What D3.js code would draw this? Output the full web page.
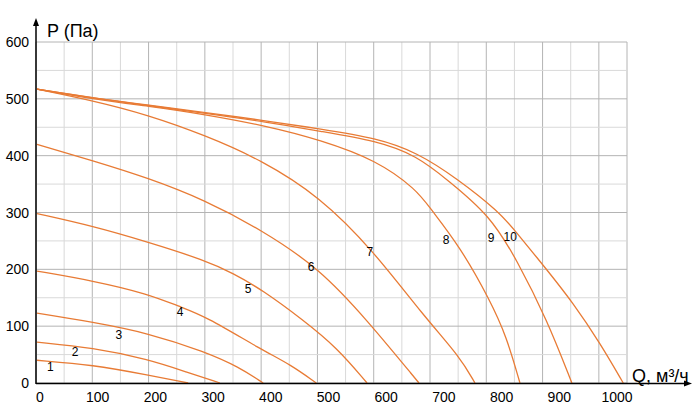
<!DOCTYPE html>
<html><head><meta charset="utf-8">
<script src="https://cdn.jsdelivr.net/npm/d3@7"></script>
<style>body{margin:0;background:#fff}svg{display:block}text{font-family:"Liberation Sans",Arial,sans-serif}</style>
</head><body><svg id="c" width="700" height="420"></svg>
<script>
const xTicks=[0,100,200,300,400,500,600,700,800,900,1000];
const yTicks=[0,100,200,300,400,500,600];
const curve1=[[0,40],[97,32],[192,14],[262,0]];
const curve2=[[0,72],[97,62],[192,42],[260,19],[317,0]];
const curve3=[[0,123],[97,107],[192,88],[291,55],[350,28],[392,0]];
const curve4=[[0,197],[97,180],[192,157],[248,134],[291,118],[390,58],[440,32],[484,0]];
const curve5=[[0,298],[97,276],[192,248],[291,216],[340,193],[390,164],[461,111],[520,62],[572,0]];
const curve6=[[0,420],[97,391],[192,361],[291,322],[390,269],[489,202],[572,111],[662,0]];
const curve7=[[0,517],[100,496],[191,472],[291,436],[390,392],[490,328],[582,234],[670,118],[733,46],[759,0]];
const curve8=[[0,517],[100,499],[200,486],[283,474],[400,452],[490,428],[589,392],[658,340],[681,308],[733,240],[785,146],[814,81],[837,0]];
const curve9=[[0,517],[100,501],[200,487],[283,476],[400,459],[490,443],[589,426],[658,400],[712,357],[785,295],[832,216],[884,111],[927,0]];
const curve10=[[0,517],[100,501],[200,488],[283,477],[400,461],[490,447],[589,431],[658,406],[728,360],[802,300],[825,272],[884,199],[929,141],[976,70],[1016,0]];
const curves=[curve1,curve2,curve3,curve4,curve5,curve6,curve7,curve8,curve9,curve10];
const labelNames=["1","2","3","4","5","6","7","8","9","10"];
const labelPos=[[23,26],[66,53],[142,83],[248,123],[366,164],[475,202],[577,229],[709,250],[787,253],[820,255]];

const svg=d3.select("#c");
const x=d3.scaleLinear().domain([0,1000]).range([37,614]);
const y=d3.scaleLinear().domain([0,600]).range([383,42]);
const gx=d3.scaleLinear().domain([0,21]).range([36,627]);
const g=svg.append("g");
d3.range(0,22).forEach(k=>{
  g.append("line").attr("x1",gx(k)).attr("x2",gx(k)).attr("y1",y(600)).attr("y2",y(0))
   .attr("stroke",k%2===0||k===21?"#b4b4b4":"#d9d9d9").attr("stroke-width",1);
});
d3.range(0,601,50).forEach(v=>{
  g.append("line").attr("x1",36).attr("x2",627).attr("y1",y(v)).attr("y2",y(v))
   .attr("stroke",v%100===0?"#b4b4b4":"#d9d9d9").attr("stroke-width",1);
});
const line=d3.line().x(d=>x(d[0])).y(d=>y(d[1])).curve(d3.curveBasis);
curves.forEach(c=>svg.append("path").attr("d",line(c)).attr("fill","none").attr("stroke","#e87b35").attr("stroke-width",1.3));
labelNames.forEach((n,i)=>svg.append("text").attr("x",x(labelPos[i][0])).attr("y",y(labelPos[i][1])).attr("text-anchor","middle").attr("dominant-baseline","middle").attr("font-size",12).text(n));
svg.append("line").attr("x1",36).attr("x2",36).attr("y1",384).attr("y2",22).attr("stroke","#000").attr("stroke-width",1.5);
svg.append("path").attr("d","M36,18 L33,26 L39,26 Z").attr("fill","#000");
svg.append("line").attr("x1",36).attr("x2",688).attr("y1",383.5).attr("y2",383.5).attr("stroke","#000").attr("stroke-width",1.5);
svg.append("path").attr("d","M692,383.5 L684,380.5 L684,386.5 Z").attr("fill","#000");
xTicks.forEach(t=>svg.append("text").attr("x",x(t)+3).attr("y",402).attr("text-anchor","middle").attr("font-size",14).text(t));
yTicks.forEach(t=>svg.append("text").attr("x",29).attr("y",y(t)+5).attr("text-anchor","end").attr("font-size",14).text(t));
svg.append("text").attr("x",47).attr("y",37).attr("font-size",18).text("P (Па)");
svg.append("text").attr("x",632).attr("y",382).attr("font-size",18).text("Q, м³/ч");
</script></body></html>
